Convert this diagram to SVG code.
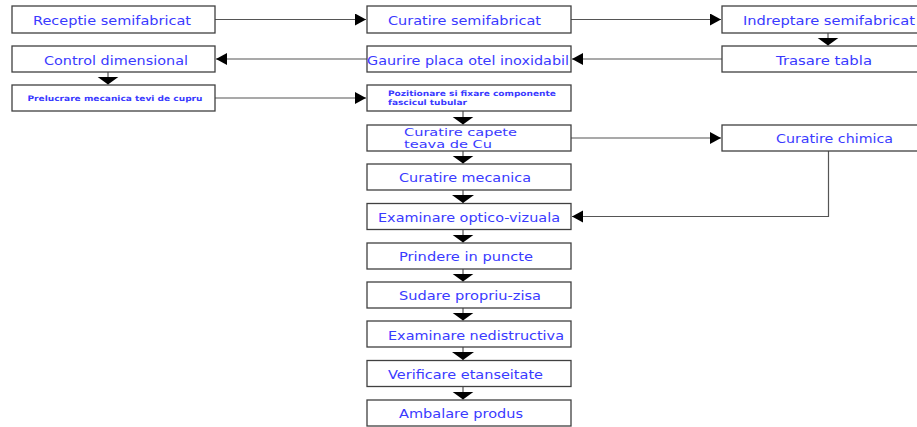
<svg xmlns="http://www.w3.org/2000/svg" width="917" height="427" viewBox="0 0 917 427">
<style>
.box{fill:#fff;stroke:#404040;stroke-width:1.3}
.t{font-family:"DejaVu Sans",Verdana,sans-serif;font-size:12.5px;fill:#3a3aff}
.m{font-family:"DejaVu Sans",Verdana,sans-serif;font-size:11px;fill:#3a3aff}
.s{font-family:"DejaVu Sans",Verdana,sans-serif;font-size:7.5px;font-weight:bold;fill:#3a3aff}
.c{fill:none;stroke:#555;stroke-width:1.2}
</style>
<defs>
<marker id="ah" markerUnits="userSpaceOnUse" markerWidth="12" markerHeight="13" refX="11" refY="6" orient="auto"><path d="M0,0 L11,6 L0,12 z" fill="#000"/></marker>
<marker id="av" markerUnits="userSpaceOnUse" markerWidth="9" markerHeight="23" refX="8" refY="11" orient="auto"><path d="M0,0 L8,11 L0,22 z" fill="#000"/></marker>
</defs>
<rect width="917" height="427" fill="#fff"/>
<g id="connectors">
<path class="c" d="M215,19.5 H366" marker-end="url(#ah)"/>
<path class="c" d="M571,19.5 H721" marker-end="url(#ah)"/>
<path class="c" d="M828,33 V45.5" marker-end="url(#av)"/>
<path class="c" d="M722,59 H572" marker-end="url(#ah)"/>
<path class="c" d="M367,59 H216" marker-end="url(#ah)"/>
<path class="c" d="M108,72 V84.5" marker-end="url(#av)"/>
<path class="c" d="M215,98 H366" marker-end="url(#ah)"/>
<path class="c" d="M463,111 V124.5" marker-end="url(#av)"/>
<path class="c" d="M571,138 H721" marker-end="url(#ah)"/>
<path class="c" d="M463,151 V163.5" marker-end="url(#av)"/>
<path class="c" d="M463,190 V203" marker-end="url(#av)"/>
<path class="c" d="M828.5,151 V216.5 H572" marker-end="url(#ah)"/>
<path class="c" d="M463,229.5 V242.5" marker-end="url(#av)"/>
<path class="c" d="M463,269 V281.5" marker-end="url(#av)"/>
<path class="c" d="M463,308 V320.5" marker-end="url(#av)"/>
<path class="c" d="M463,347 V360" marker-end="url(#av)"/>
<path class="c" d="M463,386.5 V399.5" marker-end="url(#av)"/>
</g>
<g id="n1"><rect class="box" x="12" y="6" width="203" height="27"/><text class="t" x="33" y="25" textLength="158" lengthAdjust="spacingAndGlyphs">Receptie semifabricat</text></g>
<g id="n2"><rect class="box" x="367" y="6" width="204" height="27"/><text class="t" x="388" y="25" textLength="153" lengthAdjust="spacingAndGlyphs">Curatire semifabricat</text></g>
<g id="n3"><rect class="box" x="722" y="6" width="200" height="27"/><text class="t" x="743" y="25" textLength="172" lengthAdjust="spacingAndGlyphs">Indreptare semifabricat</text></g>
<g id="n4"><rect class="box" x="722" y="46" width="200" height="26"/><text class="t" x="776" y="64.5" textLength="96" lengthAdjust="spacingAndGlyphs">Trasare tabla</text></g>
<g id="n5"><rect class="box" x="367" y="46" width="204" height="26"/><text class="t" x="367" y="64.5" textLength="202" lengthAdjust="spacingAndGlyphs">Gaurire placa otel inoxidabil</text></g>
<g id="n6"><rect class="box" x="12" y="46" width="203" height="26"/><text class="t" x="44" y="64.5" textLength="144" lengthAdjust="spacingAndGlyphs">Control dimensional</text></g>
<g id="n7"><rect class="box" x="12" y="85" width="203" height="26"/><text class="s" x="27.5" y="100.5" textLength="175" lengthAdjust="spacingAndGlyphs">Prelucrare mecanica tevi de cupru</text></g>
<g id="n8"><rect class="box" x="367" y="85" width="204" height="26"/><text class="s" x="388" y="96" textLength="168" lengthAdjust="spacingAndGlyphs">Pozitionare si fixare componente</text><text class="s" x="388" y="105" textLength="79" lengthAdjust="spacingAndGlyphs">fascicul tubular</text></g>
<g id="n9"><rect class="box" x="367" y="125" width="204" height="26"/><text class="m" x="404" y="135.5" textLength="113" lengthAdjust="spacingAndGlyphs">Curatire capete</text><text class="m" x="404" y="148" textLength="88" lengthAdjust="spacingAndGlyphs">teava de Cu</text></g>
<g id="n10"><rect class="box" x="722" y="125" width="200" height="26"/><text class="t" x="776" y="142.5" textLength="117" lengthAdjust="spacingAndGlyphs">Curatire chimica</text></g>
<g id="n11"><rect class="box" x="367" y="164" width="204" height="26"/><text class="t" x="399" y="182" textLength="132" lengthAdjust="spacingAndGlyphs">Curatire mecanica</text></g>
<g id="n12"><rect class="box" x="367" y="203.5" width="204" height="26"/><text class="t" x="378" y="221.5" textLength="182" lengthAdjust="spacingAndGlyphs">Examinare optico-vizuala</text></g>
<g id="n13"><rect class="box" x="367" y="243" width="204" height="26"/><text class="t" x="399" y="261" textLength="134" lengthAdjust="spacingAndGlyphs">Prindere in puncte</text></g>
<g id="n14"><rect class="box" x="367" y="282" width="204" height="26"/><text class="t" x="399" y="300" textLength="142" lengthAdjust="spacingAndGlyphs">Sudare propriu-zisa</text></g>
<g id="n15"><rect class="box" x="367" y="321" width="204" height="26"/><text class="t" x="388" y="339.5" textLength="176" lengthAdjust="spacingAndGlyphs">Examinare nedistructiva</text></g>
<g id="n16"><rect class="box" x="367" y="360.5" width="204" height="26"/><text class="t" x="388" y="378.5" textLength="155" lengthAdjust="spacingAndGlyphs">Verificare etanseitate</text></g>
<g id="n17"><rect class="box" x="367" y="400" width="204" height="26"/><text class="t" x="399" y="418" textLength="124" lengthAdjust="spacingAndGlyphs">Ambalare produs</text></g>
</svg>
